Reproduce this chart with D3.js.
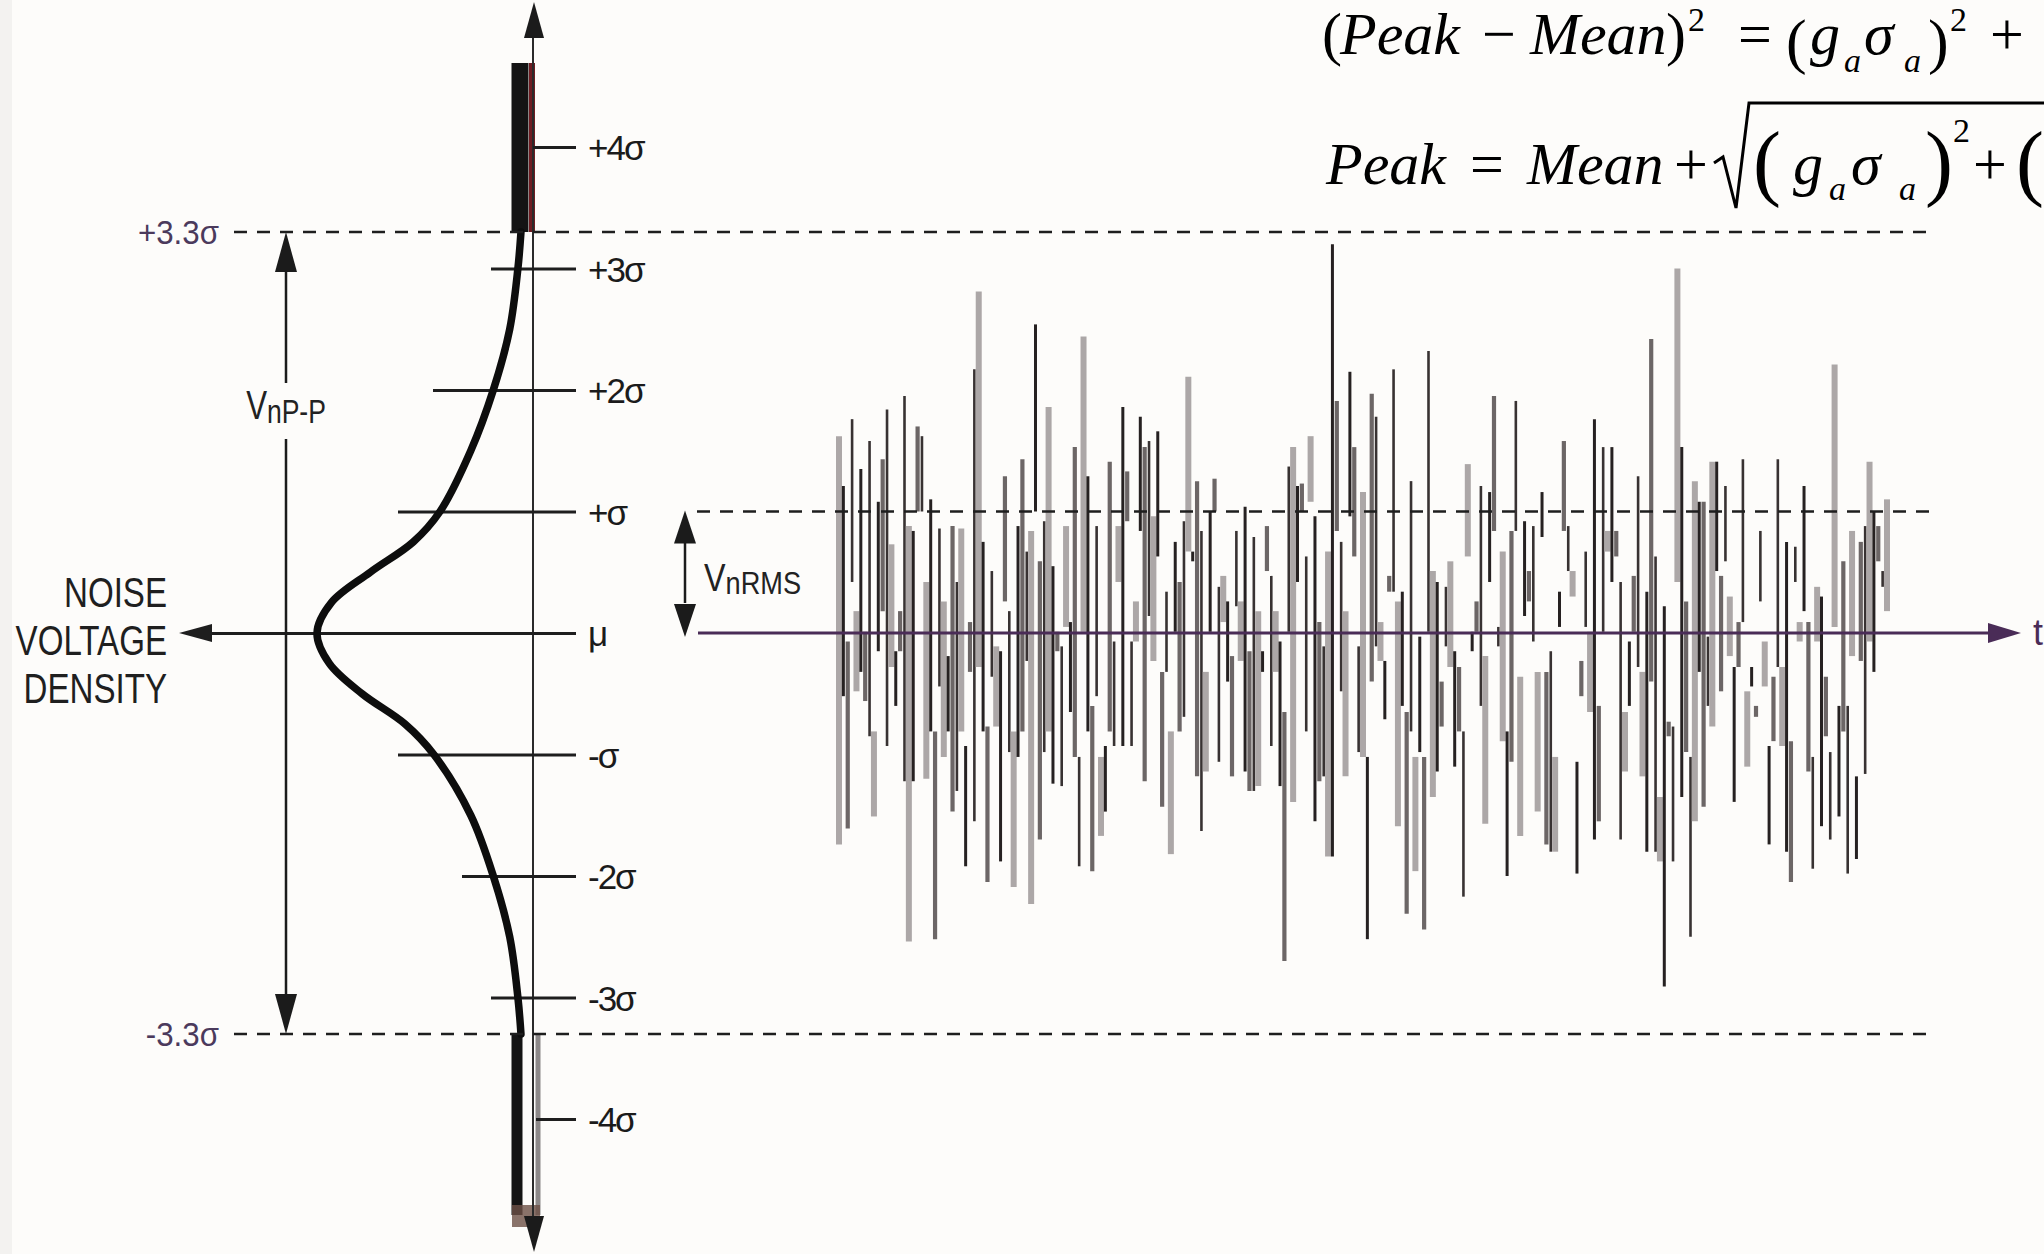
<!DOCTYPE html>
<html>
<head>
<meta charset="utf-8">
<script src="https://cdn.jsdelivr.net/npm/d3@7"></script>
<style>
  html, body { margin: 0; padding: 0; background: #fdfcfa; }
  svg { display: block; }
</style>
</head>
<body>
<svg id="chart" width="2044" height="1254"></svg>
<script>
// ---- data -------------------------------------------------------------
// sigma levels marked on the vertical (voltage) axis
const sigmaTicks = [4, 3, 2, 1, 0, -1, -2, -3, -4];
const sigmaTickLabels = ["+4σ", "+3σ", "+2σ", "+σ", "μ", "-σ", "-2σ", "-3σ", "-4σ"];
// peak-to-peak limits and the RMS level (in σ)
const peakBounds = [3.3, -3.3];
const peakBoundLabels = ["+3.3σ", "-3.3σ"];
const rmsLevel = 1;

// noise voltage density profile: position in σ and relative density
const densityZ     = [-3.3, -3.0, -2.5, -2.0, -1.5, -1.0, -0.75, -0.5, -0.25, 0, 0.25, 0.5, 0.75, 1.0, 1.5, 2.0, 2.5, 3.0, 3.3];
const densityValue = [0.005, 0.02, 0.06, 0.14, 0.25, 0.43, 0.57, 0.78, 0.94, 1.0, 0.93, 0.74, 0.53, 0.40, 0.25, 0.14, 0.06, 0.02, 0.005];

// noise waveform: upper and lower excursion of each sample, in σ
const noiseHigh = [
  1.62,1.21,-0.07,1.76,0.18,1.35,0.01,1.58,-0.81,1.08, 1.43,1.84,0.73,-0.15,0.18,1.95,0.88,0.84,1.70,1.62,
  0.42,1.10,-0.81,0.86,0.26,-0.19,0.88,0.42,0.86,-0.93, 0.09,2.17,2.81,0.75,-0.77,0.51,-0.11,-0.15,1.29,0.18,
  -0.81,0.88,1.43,0.67,0.84,2.54,0.59,0.92,1.86,0.55, 0.01,
  -0.11,0.88,0.09,1.53,-1.02,2.44,1.29,-0.60,0.88,-1.02, -0.93,1.41,-0.07,0.88,1.86,1.33,-0.07,0.26,1.78,1.53,
  1.58,0.96,1.66,-0.32,0.34,-0.81,0.75,0.42,0.92,2.11, 0.67,1.25,0.84,-0.32,1.00,1.27,0.38,0.47,0.26,-0.19,
  0.84,0.26,1.04,-0.15,0.79,0.18,-0.15,0.88,0.47,0.18, -0.07,-0.65,1.37,1.53,1.21,1.23,0.63,1.62,0.96,0.09,
  -0.11,0.67,3.20,
  1.91,0.75,0.18,2.15,1.53,-0.11,1.16,-1.02,1.97,1.78, 0.09,-0.23,0.47,2.17,0.26,0.34,-0.65,1.25,-1.02,-0.03,
  -1.02,2.32,0.51,0.42,-0.40,0.38,0.59,-0.15,-0.28,-0.81, 1.39,0.01,0.26,1.21,-0.19,1.16,1.95,0.05,0.67,-0.81,
  0.84,1.91,-0.36,0.92,0.51,0.88,-0.32,1.16,-0.32,-0.15, -1.02,0.34,1.58,0.88,0.51,-1.06,-0.23,0.67,0.01,1.76,
  -0.60,1.53,0.84,
  1.53,0.84,0.42,-0.65,-0.07,0.47,1.29,-0.32,0.34,2.42, 0.63,-1.35,0.22,-0.73,-0.77,3.00,1.53,0.26,-1.02,1.25,
  1.08,1.08,-0.03,1.41,1.41,0.47,1.21,0.30,-0.28,0.09, 1.43,-0.48,-0.28,-0.60,0.84,-0.07,-0.93,-0.36,1.43,-0.28,
  0.75,-0.89,0.71,0.09,1.21,0.09,-1.02,0.38,0.30,-0.36, -0.98,2.21,-0.60,0.59,-0.60,0.84,-1.18,0.75,0.88,1.41,
  1.00,0.88,0.51,1.10
];
const noiseLow = [
  -1.74,-0.52,-1.61,0.42,-0.48,-0.32,-0.56,-0.85,-1.51,-0.15, 0.18,-0.93,-0.28,-0.60,-0.15,-1.22,-2.54,-1.22,1.00,1.00,
  -1.20,-0.81,-2.52,-0.44,-1.02,-0.81,-1.47,-1.30,-0.81,-1.92, -0.32,-1.55,-0.28,-0.81,-2.05,-0.36,-0.77,-1.88,0.26,-0.98,
  -2.09,-1.02,-0.81,-0.23,-2.23,1.00,-1.70,-0.98,-0.81,-1.24, -0.15,
  -1.26,0.05,-0.65,-1.02,-1.92,0.01,-0.81,-1.96,-0.52,-1.67, -1.47,-0.81,-0.93,0.42,-0.93,0.92,-0.93,-0.07,0.84,-1.22,
  0.14,-0.23,0.63,-1.43,-0.32,-1.82,0.01,-0.81,-0.69,0.67, 0.59,-1.18,-1.63,-1.14,0.01,1.00,-1.06,0.09,-0.40,-1.18,
  0.22,-0.23,-1.14,-1.30,-1.30,-1.26,-0.32,0.51,-0.93,-0.32, -1.26,-2.70,0.01,-1.39,0.42,1.00,-0.81,1.08,-1.55,-1.22,
  -1.18,-1.84,-1.84,
  0.84,-0.48,-1.18,0.96,0.63,-0.98,-1.02,-2.52,-0.40,-0.11, -0.23,-0.71,0.34,0.34,-1.59,-0.60,-2.31,-0.81,-1.96,-0.98,
  -2.44,0.01,-1.35,-1.14,-0.77,-0.11,-0.28,-1.10,-0.81,-2.17, 0.63,-0.15,0.01,-0.60,-1.57,0.42,0.84,-0.11,-0.89,-2.00,
  -1.06,0.84,-1.67,0.14,0.26,-0.07,-1.47,0.79,-1.74,-1.80, -1.80,0.05,0.84,0.51,0.30,-1.98,-0.52,0.05,-0.65,-1.70,
  -1.55,0.01,0.67,
  0.42,0.63,-1.70,-1.14,-0.60,0.01,-0.28,-1.18,-1.80,-0.40, -1.80,-1.88,-2.91,-0.85,-1.88,0.42,-1.35,-0.98,-2.50,-1.55,
  -0.32,-1.43,-0.60,-0.77,0.51,-0.48,0.59,-0.19,-1.39,-0.28, 0.09,-1.10,-0.44,-0.69,0.26,-0.44,-1.74,-0.89,-0.28,-0.93,
  -1.80,-2.05,0.42,-0.07,0.18,-1.14,-1.94,-0.07,-1.59,-0.85, -1.70,0.05,-1.51,-0.81,-1.98,-0.19,-1.86,-0.23,-1.16,-0.07,
  -0.32,0.59,0.38,0.18
];

// ---- layout -----------------------------------------------------------
const W = 2044, H = 1254;
const SANS = "'Liberation Sans', Arial, Helvetica, sans-serif";
const SERIF = "'Liberation Serif', 'Times New Roman', serif";
const INK = "#1b1b1b";
const PURPLE = "#4a2c57";

const svg = d3.select("#chart");
svg.append("rect").attr("width", W).attr("height", H).attr("fill", "#fdfcfa");
svg.append("rect").attr("width", 12).attr("height", H).attr("fill", "#f3f2f0");

// shared voltage scale (σ units) for the density profile and the waveform
const y = d3.scaleLinear().domain([-4, 4]).range([1119, 147]);
const axisX = 533;            // vertical voltage axis
const xDensity = d3.scaleLinear().domain([0, 1]).range([522, 317]);
const nSamples = Math.min(noiseHigh.length, noiseLow.length);
const xTime = d3.scaleLinear().domain([0, nSamples - 1]).range([839, 1887]);

function arrowHead(parent, tx, ty, dir, len, half, fill) {
  let pts;
  if (dir === "up")    pts = [[tx, ty], [tx - half, ty + len], [tx + half, ty + len]];
  if (dir === "down")  pts = [[tx, ty], [tx - half, ty - len], [tx + half, ty - len]];
  if (dir === "left")  pts = [[tx, ty], [tx + len, ty - half], [tx + len, ty + half]];
  if (dir === "right") pts = [[tx, ty], [tx - len, ty - half], [tx - len, ty + half]];
  parent.append("polygon").attr("points", pts.map(p => p.join(",")).join(" ")).attr("fill", fill || INK);
}

function label(parent, x, yy, str, o) {
  const g = parent.append("g").attr("transform", `translate(${x},${yy}) scale(${o.sx || 1},1)`);
  return g.append("text")
    .attr("text-anchor", o.anchor || "start")
    .attr("font-family", o.family || SANS)
    .attr("font-size", o.size)
    .attr("font-style", o.italic ? "italic" : "normal")
    .attr("fill", o.fill || INK)
    .text(str);
}

// ---- density side -----------------------------------------------------
const left = svg.append("g");

// tails of the density curve running along the axis
left.append("line").attr("x1", 520).attr("x2", 520).attr("y1", 63).attr("y2", y(3.3))
  .attr("stroke", "#141414").attr("stroke-width", 17);
left.append("line").attr("x1", 532).attr("x2", 532).attr("y1", 63).attr("y2", y(3.3))
  .attr("stroke", "#6e1c22").attr("stroke-width", 6);
left.append("line").attr("x1", 517).attr("x2", 517).attr("y1", y(-3.3)).attr("y2", 1215)
  .attr("stroke", "#141414").attr("stroke-width", 11);
left.append("line").attr("x1", 538).attr("x2", 538).attr("y1", y(-3.3)).attr("y2", 1215)
  .attr("stroke", "#8c8888").attr("stroke-width", 5);
left.append("rect").attr("x", 512).attr("y", 1205).attr("width", 28).attr("height", 22)
  .attr("fill", "#6d5046").attr("opacity", 0.8);

// vertical voltage axis with arrows at both ends
left.append("line").attr("x1", axisX).attr("x2", axisX).attr("y1", 30).attr("y2", 1225)
  .attr("stroke", "#2a2a2a").attr("stroke-width", 2);
arrowHead(left, axisX + 1, 2, "up", 36, 10);
arrowHead(left, axisX + 1, 1252, "down", 36, 10);

// sigma ticks via a d3 axis; each tick reaches a different distance to the left
const tickReach = { "4": 43, "3": 85, "2": 143, "1": 178, "0": 364, "-1": 178, "-2": 114, "-3": 85, "-4": 40 };
const tickAxis = d3.axisRight(y)
  .tickValues(sigmaTicks)
  .tickFormat((d, i) => sigmaTickLabels[i])
  .tickSize(0)
  .tickPadding(12);
const ticksG = left.append("g").attr("transform", "translate(576,0)").call(tickAxis);
ticksG.attr("font-family", null).attr("font-size", null);
ticksG.select(".domain").remove();
ticksG.selectAll(".tick line")
  .attr("x1", d => -tickReach[String(d)]).attr("x2", 0)
  .attr("stroke", "#1e1e1e").attr("stroke-width", 3);
ticksG.selectAll(".tick text")
  .attr("font-family", SANS).attr("font-size", 35).attr("fill", INK)
  .attr("dy", "0.36em").attr("letter-spacing", -2);
// arrow at the left end of the mean line (noise voltage density direction)
arrowHead(left, 179, y(0), "left", 33, 9, "#1e1e1e");

// density curve
const densityPts = densityZ.map((z, i) => ({ z, d: densityValue[i] }));
left.append("path")
  .datum(densityPts)
  .attr("fill", "none").attr("stroke", "#0d0d0d").attr("stroke-width", 7.5)
  .attr("stroke-linecap", "round")
  .attr("d", d3.line().x(p => xDensity(p.d)).y(p => y(p.z)).curve(d3.curveCatmullRom.alpha(0.5)));

// axis caption
["NOISE", "VOLTAGE", "DENSITY"].forEach((s, i) =>
  label(left, 167, 607 + i * 48, s, { size: 43, anchor: "end", sx: 0.77, fill: "#1f1f1f" }));

// peak-to-peak span arrow and label
const ppX = 286;
left.append("line").attr("x1", ppX).attr("x2", ppX)
  .attr("y1", y(peakBounds[0]) + 36).attr("y2", y(peakBounds[1]) - 36)
  .attr("stroke", INK).attr("stroke-width", 2.5);
arrowHead(left, ppX, y(peakBounds[0]), "up", 40, 11);
arrowHead(left, ppX, y(peakBounds[1]), "down", 40, 11);
left.append("rect").attr("x", 238).attr("y", 383).attr("width", 96).attr("height", 56).attr("fill", "#fdfcfa");
{
  const t = label(left, ppX, 419, "", { size: 40, anchor: "middle", sx: 0.78, fill: "#222" });
  t.append("tspan").text("V");
  t.append("tspan").attr("font-size", 34).attr("dy", 4).text("nP-P");
}

// peak-to-peak bound labels
peakBoundLabels.forEach((s, i) =>
  label(svg, 219, y(peakBounds[i]) + 12, s, { size: 34, anchor: "end", fill: "#4b3a5c", sx: 0.92 }));

// ---- waveform side ----------------------------------------------------
const wave = svg.append("g");
const sampleStyle = [
  { stroke: "#aca7a7", width: 6 },
  { stroke: "#262121", width: 3 },
  { stroke: "#6c6666", width: 4.2 },
  { stroke: "#383232", width: 2.6 }
];
wave.selectAll("line.sample")
  .data(d3.range(nSamples))
  .join("line")
  .attr("class", "sample")
  .attr("x1", i => xTime(i)).attr("x2", i => xTime(i))
  .attr("y1", i => y(noiseHigh[i])).attr("y2", i => y(noiseLow[i]))
  .attr("stroke", i => sampleStyle[i % 4].stroke)
  .attr("stroke-width", i => sampleStyle[i % 4].width);

// time axis
svg.append("line").attr("x1", 698).attr("x2", 1992).attr("y1", y(0)).attr("y2", y(0))
  .attr("stroke", PURPLE).attr("stroke-width", 3);
arrowHead(svg, 2021, y(0), "right", 33, 10, PURPLE);
label(svg, 2033, y(0) + 12, "t", { size: 36, fill: PURPLE });

// dashed reference levels
const dash = "13,10";
peakBounds.forEach(v =>
  svg.append("line").attr("x1", 234).attr("x2", 1930).attr("y1", y(v)).attr("y2", y(v))
    .attr("stroke", "#1e1e1e").attr("stroke-width", 2.6).attr("stroke-dasharray", dash));
svg.append("line").attr("x1", 697).attr("x2", 1938).attr("y1", y(rmsLevel)).attr("y2", y(rmsLevel))
  .attr("stroke", "#1e1e1e").attr("stroke-width", 2.6).attr("stroke-dasharray", dash);

// RMS span arrow and label
const rmsX = 685;
svg.append("line").attr("x1", rmsX).attr("x2", rmsX)
  .attr("y1", y(rmsLevel) + 30).attr("y2", y(0) - 30)
  .attr("stroke", INK).attr("stroke-width", 2.5);
arrowHead(svg, rmsX, y(rmsLevel) - 1, "up", 33, 11);
arrowHead(svg, rmsX, y(0) + 4, "down", 33, 11);
{
  const t = label(svg, 704, 591, "", { size: 38, sx: 0.85, fill: "#222" });
  t.append("tspan").text("V");
  t.append("tspan").attr("font-size", 32).attr("dy", 3).text("nRMS");
}

// ---- peak formula -----------------------------------------------------
const eq = svg.append("g");
const FS = 60, SUP = 34, PAR1 = 62, PAR2 = 84;
const tokens1 = [
  ["(", 1322, 54, false, FS], ["Peak", 1340, 54, true, FS], ["−", 1482, 54, false, FS],
  ["Mean", 1530, 54, true, FS], [")", 1666, 54, false, FS], ["2", 1688, 31, false, SUP],
  ["=", 1738, 54, false, FS], ["(", 1786, 62, false, PAR1], ["g", 1810, 54, true, FS],
  ["a", 1844, 72, true, SUP], ["σ", 1864, 54, true, FS], ["a", 1904, 72, true, SUP],
  [")", 1928, 62, false, PAR1], ["2", 1950, 31, false, SUP], ["+", 1990, 54, false, FS]
];
const tokens2 = [
  ["Peak", 1326, 184, true, FS], ["=", 1470, 184, false, FS], ["Mean", 1527, 184, true, FS],
  ["+", 1674, 184, false, FS], ["(", 1753, 190, false, PAR2], ["g", 1793, 184, true, FS],
  ["a", 1829, 200, true, SUP], ["σ", 1851, 184, true, FS], ["a", 1899, 200, true, SUP],
  [")", 1925, 190, false, PAR2], ["2", 1953, 142, false, SUP], ["+", 1973, 184, false, FS],
  ["(", 2016, 190, false, PAR2]
];
tokens1.concat(tokens2).forEach(([s, x, yy, it, size]) =>
  label(eq, x, yy, s, { size, italic: it, family: SERIF, fill: "#000" }));
// radical sign
eq.append("path")
  .attr("d", "M1714,163 L1723,157 L1736,208 L1749,103 L2044,103")
  .attr("fill", "none").attr("stroke", "#000").attr("stroke-width", 3);
</script>
</body>
</html>
